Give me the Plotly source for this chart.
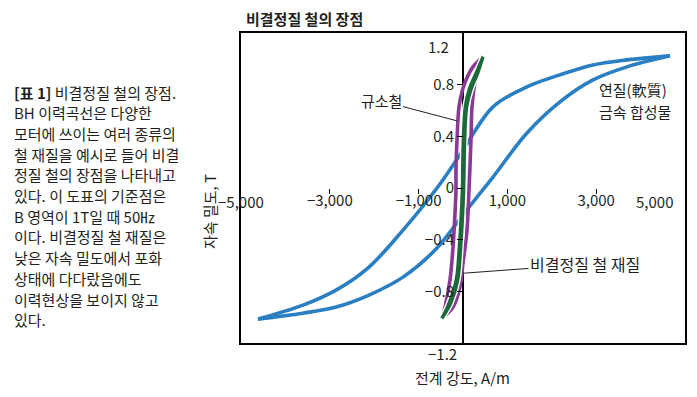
import plotly.graph_objects as go

# ---------------- data ----------------
# soft magnetic composite (blue): descending branch (upper) and ascending branch (lower)
blue_desc_H = [4662, 3693, 2928, 2184, 1441, 676, -68, -585, -1351, -2117, -2860, -3603, -4617]
blue_desc_B = [1.023, 0.992, 0.953, 0.876, 0.783, 0.628, 0.256, 0.0, -0.326, -0.612, -0.791, -0.907, -1.015]
blue_asc_H = [-4617, -3603, -2860, -2117, -1351, -608, 0, 315, 676, 1441, 2184, 2928, 3693, 4662]
blue_asc_B = [-1.015, -0.969, -0.922, -0.829, -0.690, -0.473, -0.209, -0.070, 0.085, 0.426, 0.667, 0.837, 0.938, 1.023]

# silicon iron (purple)
purple_desc_H = [450, 225, 68, -23, -90, -135, -158, -158, -180, -225, -293, -405, -473]
purple_desc_B = [1.016, 0.938, 0.837, 0.744, 0.628, 0.372, 0.140, -0.016, -0.194, -0.457, -0.713, -0.922, -1.008]
purple_asc_H = [-473, -225, -68, 0, 90, 135, 180, 203, 270, 383, 450]
purple_asc_B = [-1.008, -0.922, -0.767, -0.581, -0.326, -0.016, 0.372, 0.628, 0.814, 0.938, 1.016]

# amorphous iron (green)
green_desc_H = [450, 295, 135, 50, 5, -17, -40, -85, -155, -315, -473]
green_desc_B = [1.016, 0.891, 0.760, 0.628, 0.372, -0.016, -0.194, -0.457, -0.713, -0.891, -1.008]
green_asc_H = [-473, -275, -118, -50, -5, 17, 40, 85, 180, 335, 450]
green_asc_B = [-1.008, -0.891, -0.713, -0.457, -0.194, -0.016, 0.372, 0.628, 0.760, 0.891, 1.016]

x_tick_vals = [-3000, -1000, 1000, 3000]
x_tick_text = ["−3,000", "−1,000", "1,000", "3,000"]
y_tick_vals = [-0.8, -0.4, 0, 0.4, 0.8]
y_tick_text = ["−0.8", "−0.4", "0", "0.4", "0.8"]

title_text = "비결정질 철의 장점"
caption_lines = [
    "<b>[표 1]</b> 비결정질 철의 장점.",
    "BH 이력곡선은 다양한",
    "모터에 쓰이는 여러 종류의",
    "철 재질을 예시로 들어 비결",
    "정질 철의 장점을 나타내고",
    "있다. 이 도표의 기준점은",
    "B 영역이 1T일 때 50㎐",
    "이다. 비결정질 철 재질은",
    "낮은 자속 밀도에서 포화",
    "상태에 다다랐음에도",
    "이력현상을 보이지 않고",
    "있다.",
]
soft_label_lines = ["연질(軟質)", "금속 합성물"]

FONT = "Noto Sans CJK KR, Noto Sans, sans-serif"
TXT = "#231f20"
BLUE = "#2a7fc2"
PURPLE = "#8b3896"
GREEN = "#1c6a3b"

# page offset (body margin) and plot box in window pixels
OFF = 8
WIN_W, WIN_H = 697, 397
PL, PR, PT, PB = 241, 685, 33, 343
W, H = WIN_W - OFF, WIN_H - OFF
ML, MT = PL - OFF, PT - OFF
MR, MB = W - (PR - OFF), H - (PB - OFF)


def px(x, y):
    return (x - PL) / (PR - PL), (PB - y) / (PB - PT)


fig = go.Figure()


def branch(h, b, color, width):
    fig.add_trace(go.Scatter(x=h, y=b, mode="lines",
                             line=dict(color=color, width=width, shape="spline", smoothing=1.0),
                             hoverinfo="skip", showlegend=False))


branch(blue_desc_H, blue_desc_B, BLUE, 3.6)
branch(blue_asc_H, blue_asc_B, BLUE, 3.6)
branch(purple_desc_H, purple_desc_B, PURPLE, 3.6)
branch(purple_asc_H, purple_asc_B, PURPLE, 3.6)
branch(green_desc_H, green_desc_B, "white", 6)
branch(green_asc_H, green_asc_B, "white", 6)
branch(green_desc_H, green_desc_B, GREEN, 3.2)
branch(green_asc_H, green_asc_B, GREEN, 3.2)

# dummy trace for overlay axes
fig.add_trace(go.Scatter(x=[0], y=[0], xaxis="x2", yaxis="y2", mode="markers",
                         marker=dict(opacity=0), hoverinfo="skip", showlegend=False))

ann = []


def ptext(x, y, text, size=15, xanchor="center", yanchor="middle", **kw):
    ex, ey = px(x, y)
    ann.append(dict(x=ex, y=ey, xref="paper", yref="paper", xanchor=xanchor, yanchor=yanchor,
                    text=text, showarrow=False, font=dict(size=size, color=TXT), **kw))


ptext(244, 18, "<b>" + title_text + "</b>", xanchor="left")
for i, line in enumerate(caption_lines):
    ptext(12, 92 + i * 20.7, line, xanchor="left")
ptext(209, 212, "자속 밀도, T", textangle=-90)
ptext(462, 377, "전계 강도, A/m")
for i, line in enumerate(soft_label_lines):
    ptext(597, 89.5 + i * 22, line, size=15, xanchor="left")

ann.append(dict(x=-5000, y=0, xref="x", yref="y", text="−5,000", showarrow=False,
                xanchor="center", yanchor="top", yshift=-1, font=dict(size=15, color=TXT)))
ann.append(dict(x=5000, y=0, xref="x", yref="y", text="5,000", showarrow=False,
                xanchor="right", xshift=-10, yanchor="top", yshift=-1, font=dict(size=15, color=TXT)))
ann.append(dict(x=0, y=1.2, xref="x", yref="y", text="1.2", showarrow=False,
                xanchor="right", xshift=-12, yanchor="top", yshift=-1, font=dict(size=15, color=TXT)))
ann.append(dict(x=0, y=-1.2, xref="x", yref="y", text="−1.2", showarrow=False,
                xanchor="right", xshift=-4, yanchor="top", yshift=2, font=dict(size=15, color=TXT)))
ann.append(dict(x=-135, y=0.52, xref="x", yref="y", text="규소철", showarrow=True, arrowhead=0,
                arrowwidth=1, arrowcolor=TXT, ax=-76, ay=-20, font=dict(size=15, color=TXT)))
ann.append(dict(x=0, y=-0.66, xref="x", yref="y", text="비결정질 철 재질", showarrow=True, arrowhead=0,
                arrowwidth=1, arrowcolor=TXT, ax=122, ay=-9, font=dict(size=16, color=TXT)))

fig.update_layout(
    width=W, height=H,
    margin=dict(l=ML, r=MR, t=MT, b=MB, pad=0, autoexpand=False),
    paper_bgcolor="white", plot_bgcolor="white",
    font=dict(family=FONT, color=TXT, size=15),
    annotations=ann,
    xaxis=dict(range=[-5000, 5000], showline=True, mirror=True, linecolor="black", linewidth=2,
               showticklabels=False, ticks="", showgrid=False, zeroline=True,
               zerolinecolor="black", zerolinewidth=1.5, fixedrange=True),
    yaxis=dict(range=[-1.2, 1.2], showline=True, mirror=True, linecolor="black", linewidth=2,
               showticklabels=False, ticks="", showgrid=False, zeroline=False, fixedrange=True),
    xaxis2=dict(overlaying="x", anchor="free", position=0.5, range=[-5000, 5000],
                tickmode="array", tickvals=x_tick_vals, ticktext=x_tick_text,
                ticks="outside", ticklen=5, tickwidth=1, tickcolor="black",
                ticklabelstandoff=-6,
                showline=False, showgrid=False, zeroline=False, side="bottom",
                tickfont=dict(size=15, color=TXT), fixedrange=True),
    yaxis2=dict(overlaying="y", anchor="free", position=0.5, range=[-1.2, 1.2],
                tickmode="array", tickvals=y_tick_vals, ticktext=y_tick_text,
                ticks="outside", ticklen=6, tickwidth=1, tickcolor="black",
                showline=False, showgrid=False, zeroline=False, side="left",
                tickfont=dict(size=15, color=TXT), fixedrange=True),
)

fig.write_html("out.html")
